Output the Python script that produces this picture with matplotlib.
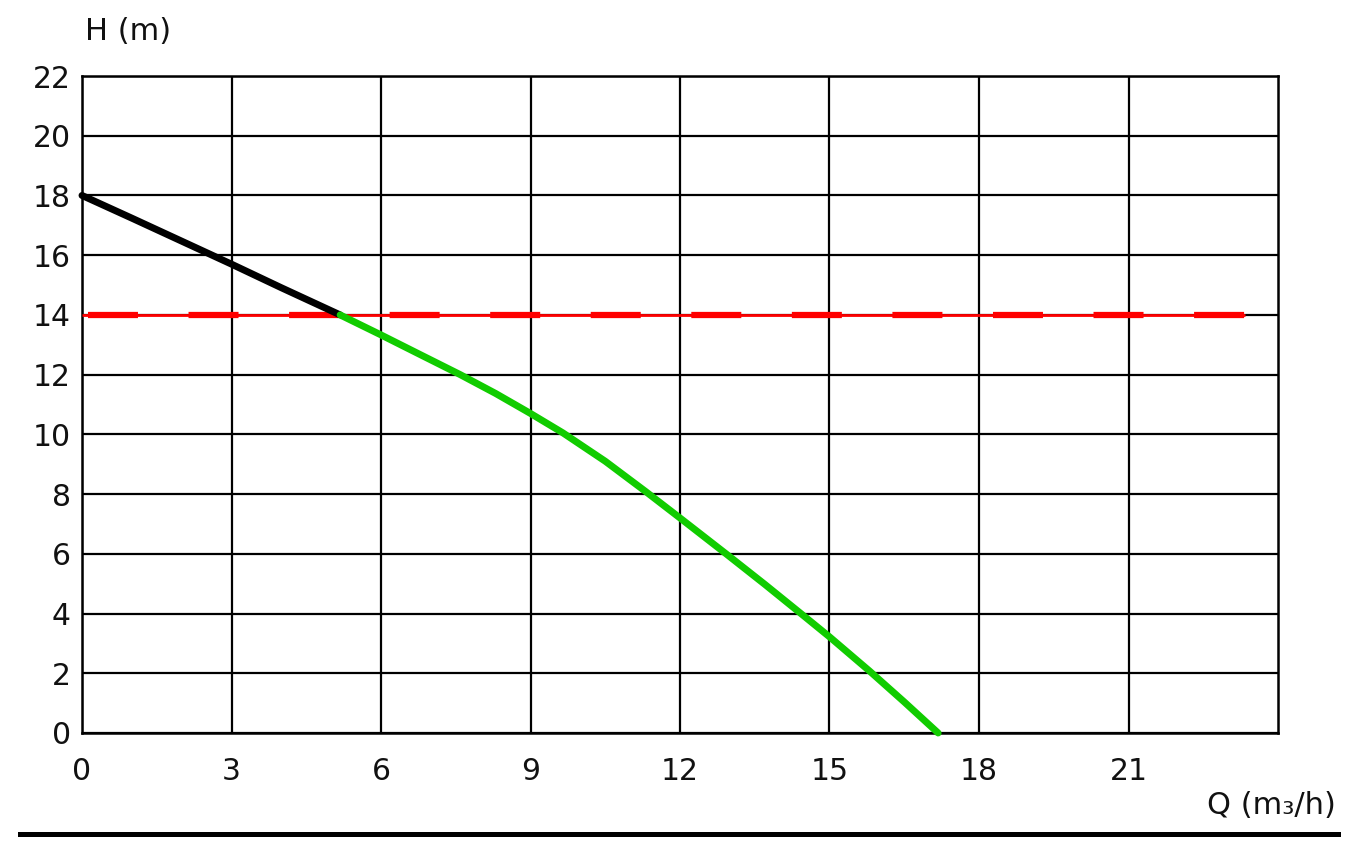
import matplotlib
matplotlib.use("Agg")
import matplotlib.pyplot as plt
from matplotlib.lines import Line2D

# pump curve
q_black = [0, 1, 2, 3, 4, 5.18]
h_black = [18, 17.24, 16.47, 15.7, 14.91, 14.0]

q_green = [5.18, 6, 6.8, 7.59, 8.3, 9, 9.65, 10.5, 11.3, 12, 12.94, 13.7, 14.5, 15, 15.8, 16.5, 17.18]
h_green = [14.0, 13.33, 12.66, 12.0, 11.37, 10.7, 10.05, 9.1, 8.1, 7.2, 5.98, 4.98, 3.9, 3.22, 2.08, 1.04, 0.0]

q_red = [0, 23.34]
h_red = [14, 14]

xticks = [0, 3, 6, 9, 12, 15, 18, 21]
yticks = [0, 2, 4, 6, 8, 10, 12, 14, 16, 18, 20, 22]

plt.rcParams['font.family'] = ['DejaVu Sans']
plt.rcParams['lines.scale_dashes'] = False

fig = plt.figure(figsize=(13.58, 8.49), dpi=100)
ax = fig.add_axes([82/1358, 1-733/849, (1278-82)/1358, (733-76)/849])

ax.set_xlim(0, 24)
ax.set_ylim(0, 22)
ax.set_xticks(xticks)
ax.set_yticks(yticks)
ax.tick_params(length=0, labelsize=21.5, colors='#111111')
ax.tick_params(axis='x', pad=17)
ax.tick_params(axis='y', pad=8)
ax.grid(True, color='black', linewidth=1.6)
for s in ax.spines.values():
    s.set_linewidth(1.8)
    s.set_color('black')
ax.set_axisbelow(True)

# red limit line: thin solid plus thick dashes
ax.plot(q_red, h_red, color='#ff0000', linewidth=2.0, solid_capstyle='butt', zorder=3)
ax.plot(q_red, h_red, color='#ff0000', linewidth=4.5,
        linestyle=(68.1, (36.0, 36.4)), dash_capstyle='butt', zorder=3)

ax.plot(q_black, h_black, color='black', linewidth=5, solid_capstyle='round',
        solid_joinstyle='round', clip_on=False, zorder=4)
ax.plot(q_green, h_green, color='#11cc00', linewidth=5, solid_capstyle='round',
        solid_joinstyle='round', clip_on=False, zorder=4)

fig.text(85/1358, 1-31/849, 'H (m)', fontsize=22, ha='left', va='center', color='#111111')
fig.text(1336/1358, 1-805/849, 'Q (m\u2083/h)', fontsize=22, ha='right', va='center', color='#111111')

fig.add_artist(Line2D([20/1358, 1338/1358], [1-834/849, 1-834/849],
                      color='black', linewidth=3.6, transform=fig.transFigure))

fig.savefig('out.png', dpi=100)
